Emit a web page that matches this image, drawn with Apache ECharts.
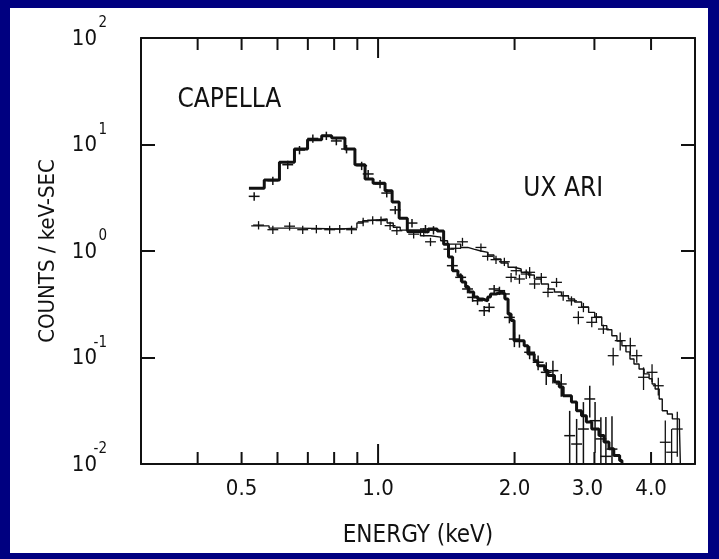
<!DOCTYPE html>
<html><head><meta charset="utf-8">
<script src="https://cdn.jsdelivr.net/npm/echarts@6/dist/echarts.min.js"></script>
<style>html,body{margin:0;padding:0;background:#000080;}#c{width:719px;height:559px;}</style>
</head><body><div id="c"></div>
<script>
// ---------------- data ----------------
// Capella model histogram: bin left edges (+ final right edge) in keV, counts/keV-sec
const capEdges = [0.519,0.561,0.606,0.654,0.699,0.751,0.790,0.845,0.889,0.936,0.975,1.036,1.074,1.113,1.160,1.24,1.29,1.35,1.395,1.43,1.46,1.50,1.53,1.56,1.585,1.625,1.66,1.70,1.745,1.77,1.82,1.875,1.905,1.935,1.965,1.995,2.10,2.14,2.21,2.25,2.33,2.37,2.45,2.51,2.56,2.67,2.74,2.81,2.88,2.96,3.07,3.15,3.23,3.31,3.41,3.45];
const capModel = [3.88,4.64,6.80,9.07,11.1,12.1,11.5,9.07,6.46,4.74,4.32,3.68,2.88,2.03,1.55,1.51,1.61,1.54,1.16,0.878,0.653,0.586,0.512,0.459,0.412,0.370,0.354,0.341,0.370,0.395,0.412,0.395,0.354,0.256,0.222,0.144,0.129,0.108,0.0934,0.0836,0.0754,0.0676,0.0588,0.0529,0.0438,0.0382,0.0316,0.0284,0.0248,0.0213,0.0185,0.0161,0.0139,0.0120,0.0108];
// Capella data points (energy, counts, relative error)
const capPtE = [0.533,0.586,0.632,0.671,0.718,0.769,0.809,0.852,0.920,0.951,1.010,1.045,1.091,1.188,1.272,1.325,1.458,1.521,1.575,1.616,1.657,1.714,1.758,1.803,1.852,1.899,1.948,1.998,2.05,2.159,2.254,2.349,2.43,2.535,2.646,2.741,2.837,2.93,3.01,3.10,3.18,3.28];
const capPtC = [3.26,4.57,6.46,8.88,11.4,12.1,10.8,9.07,6.32,5.29,4.26,3.50,2.43,1.83,1.61,1.57,0.728,0.566,0.440,0.367,0.341,0.275,0.296,0.440,0.424,0.395,0.238,0.149,0.144,0.112,0.0902,0.0726,0.0752,0.0564,0.01845,0.0154,0.0213,0.0408,0.0255,0.0172,0.0118,0.0138];
const capPtErr = [0.09,0.09,0.09,0.09,0.09,0.09,0.09,0.09,0.09,0.09,0.09,0.09,0.09,0.09,0.09,0.09,0.09,0.09,0.09,0.09,0.09,0.11,0.10,0.09,0.09,0.09,0.12,0.16,0.14,0.14,0.16,0.24,0.24,0.24,0.71,0.72,0.79,0.33,0.5,0.6,1.34,1.03];
// UX Ari model histogram
const uxEdges = [0.525,0.575,0.671,0.823,0.898,0.926,0.960,1.047,1.080,1.119,1.160,1.240,1.305,1.374,1.423,1.521,1.577,1.626,1.686,1.747,1.801,1.866,1.935,1.995,2.068,2.144,2.211,2.291,2.375,2.449,2.538,2.630,2.713,2.811,2.913,3.005,3.114,3.195,3.278,3.363,3.450,3.521,3.594,3.668,3.764,3.861,3.961,4.022,4.084,4.169,4.234,4.344,4.457,4.619,4.642];
const uxModel = [1.72,1.64,1.61,1.64,1.83,1.93,2.0,1.83,1.67,1.57,1.50,1.39,1.35,1.25,1.16,1.08,1.04,1.0,0.97,0.917,0.841,0.771,0.703,0.678,0.631,0.595,0.546,0.490,0.440,0.412,0.380,0.354,0.332,0.298,0.265,0.240,0.199,0.182,0.160,0.143,0.129,0.113,0.0969,0.0869,0.0781,0.0702,0.0631,0.0563,0.0506,0.0408,0.0316,0.0295,0.0265,0.0228];
// UX Ari data points
const uxPtE = [0.545,0.586,0.638,0.682,0.731,0.782,0.823,0.874,0.927,0.973,1.015,1.063,1.100,1.198,1.261,1.305,1.433,1.483,1.535,1.686,1.744,1.82,1.899,1.965,2.016,2.05,2.122,2.159,2.214,2.291,2.37,2.475,2.56,2.67,2.765,2.837,2.96,3.03,3.14,3.30,3.42,3.60,3.72,3.85,4.02,4.15,4.30,4.44,4.57];
const uxPtC = [1.75,1.585,1.71,1.585,1.61,1.585,1.61,1.585,1.88,1.95,1.93,1.73,1.55,1.44,1.50,1.22,1.04,1.06,1.22,1.08,0.892,0.829,0.793,0.566,0.653,0.546,0.608,0.631,0.490,0.566,0.409,0.508,0.380,0.341,0.238,0.296,0.214,0.238,0.185,0.104,0.144,0.129,0.104,0.0652,0.0726,0.0543,0.016,0.0129,0.0213];
const uxPtErr = [0.09,0.09,0.09,0.09,0.09,0.09,0.09,0.09,0.09,0.09,0.09,0.09,0.09,0.09,0.09,0.09,0.09,0.09,0.09,0.09,0.09,0.09,0.09,0.10,0.10,0.10,0.10,0.12,0.10,0.10,0.10,0.10,0.10,0.10,0.14,0.10,0.10,0.10,0.10,0.19,0.19,0.19,0.14,0.24,0.19,0.19,0.6,0.65,0.45];
// axes
const xMin = 0.3, xMax = 5.0, yMin = 0.01, yMax = 100;
const xTickVals = [0.4,0.5,0.6,0.7,0.8,0.9,1.0,2.0,3.0,4.0];
const xLabelVals = [0.5,1.0,2.0,3.0,4.0];
const yTickVals = [0.01,0.1,1,10,100];
const annoText = ['CAPELLA','UX ARI'];
const annoE = [0.47, 2.56];
const annoC = [26.2, 3.82];
const H_ARM = 1.028; // half bin width factor of data points (energy resolution)

// ---------------- chart ----------------
const FONT = '"DejaVu Sans Condensed","DejaVu Sans",sans-serif';
const INK = '#111';
const chart = echarts.init(document.getElementById('c'), null, {renderer:'canvas'});

function histData(edges, vals){
  const d = vals.map((v,i)=>[edges[i], v]);
  d.push([edges[edges.length-1], vals[vals.length-1]]);
  d.push([edges[edges.length-1], yMin]);
  return d;
}
function crossSeries(name, E, C, R, w){
  return {
    type:'custom', name, clip:true, z:4,
    data: E.map((e,i)=>[e, C[i], Math.max(C[i]*(1-R[i]), yMin), C[i]*(1+R[i])]),
    encode:{x:0,y:1},
    renderItem(params, api){
      const e=api.value(0), c=api.value(1), lo=api.value(2), hi=api.value(3);
      const p=api.coord([e,c]), l=api.coord([e/H_ARM,c]), r=api.coord([e*H_ARM,c]);
      const t=api.coord([e,hi]), b=api.coord([e,lo]);
      const st={stroke:INK, lineWidth:w};
      return {type:'group', children:[
        {type:'line', shape:{x1:l[0],y1:p[1],x2:r[0],y2:p[1]}, style:st},
        {type:'line', shape:{x1:p[0],y1:t[1],x2:p[0],y2:b[1]}, style:st}
      ]};
    }
  };
}
const axisCommon = {
  type:'log', logBase:10, splitLine:{show:false},
  axisLine:{show:true, lineStyle:{color:INK, width:2}},
  axisTick:{show:false}, axisLabel:{show:false}
};

chart.setOption({
  animation:false,
  backgroundColor:'#000080',
  graphic:[{type:'rect', left:10, top:8, z:-10, shape:{width:698, height:545}, style:{fill:'#ffffff'}}],
  grid:{left:141, right:24, top:38, bottom:95},
  xAxis:[
    Object.assign({}, axisCommon, {position:'bottom', min:xMin, max:xMax,
      name:'ENERGY (keV)', nameLocation:'middle', nameGap:60,
      nameTextStyle:{fontFamily:FONT, fontSize:24, color:INK},
      axisLabel:{show:true, customValues:xLabelVals,
        formatter:v=>Number(v)===3 ? '{s|3.0}' : Number(v).toFixed(1),
        rich:{s:{fontFamily:FONT, fontSize:22, color:INK, padding:[0,14,0,0]}},
        fontFamily:FONT, fontSize:22, color:INK, margin:14}}),
    Object.assign({}, axisCommon, {position:'top', min:xMin, max:xMax})
  ],
  yAxis:[
    Object.assign({}, axisCommon, {position:'left', min:yMin, max:yMax,
      name:'COUNTS / keV-SEC', nameLocation:'middle', nameGap:82, nameRotate:90,
      nameTextStyle:{fontFamily:FONT, fontSize:22, color:INK},
      axisTick:{show:true, inside:true, length:14, lineStyle:{color:INK, width:2}}}),
    Object.assign({}, axisCommon, {position:'right', min:yMin, max:yMax,
      axisTick:{show:true, inside:true, length:14, lineStyle:{color:INK, width:2}}})
  ],
  series:[
    {type:'line', name:'UX Ari model', step:'end', data:histData(uxEdges, uxModel),
      showSymbol:false, symbol:'none', lineStyle:{color:INK, width:1.4}, z:3},
    {type:'line', name:'Capella model', step:'end', data:histData(capEdges, capModel),
      showSymbol:false, symbol:'none', lineStyle:{color:INK, width:3}, z:3},
    crossSeries('Capella data', capPtE, capPtC, capPtErr, 1.5),
    crossSeries('UX Ari data', uxPtE, uxPtC, uxPtErr, 1.3),
    { // x-axis tick marks (bottom and top frame), longer at decades
      type:'custom', name:'xticks', clip:false, z:5,
      data: xTickVals.map(v=>[v, 1]),
      encode:{x:0,y:1},
      renderItem(params, api){
        const v=api.value(0);
        const b=api.coord([v,yMin]), t=api.coord([v,yMax]);
        const len = Math.abs(Math.log10(v)%1) < 1e-9 ? 20 : 12;
        const st={stroke:INK, lineWidth:2};
        return {type:'group', children:[
          {type:'line', shape:{x1:b[0],y1:b[1],x2:b[0],y2:b[1]-len}, style:st},
          {type:'line', shape:{x1:t[0],y1:t[1],x2:t[0],y2:t[1]+len}, style:st}
        ]};
      }
    },
    { // y-axis labels 10^n
      type:'custom', name:'ylabels', clip:false, z:5,
      data: yTickVals.map(v=>[xMin, v]),
      encode:{x:0,y:1},
      renderItem(params, api){
        const v=api.value(1);
        const p=api.coord([xMin, v]);
        const ex=Math.round(Math.log10(v));
        return {type:'group', children:[
          {type:'text', x:p[0]-44, y:p[1]+1, style:{text:'10', font:'22px '+FONT, fill:INK, align:'right', verticalAlign:'middle'}},
          {type:'text', x:p[0]-34, y:p[1]-7, style:{text:String(ex), font:'15px '+FONT, fill:INK, align:'right', verticalAlign:'bottom'}}
        ]};
      }
    },
    { // star names
      type:'custom', name:'names', clip:false, z:5,
      data: annoE.map((e,i)=>[e, annoC[i], i]),
      encode:{x:0,y:1},
      renderItem(params, api){
        const p=api.coord([api.value(0), api.value(1)]);
        return {type:'text', x:p[0], y:p[1], style:{text:annoText[api.value(2)], font:'26px '+FONT, fill:INK, align:'center', verticalAlign:'middle'}};
      }
    }
  ]
});
</script></body></html>
